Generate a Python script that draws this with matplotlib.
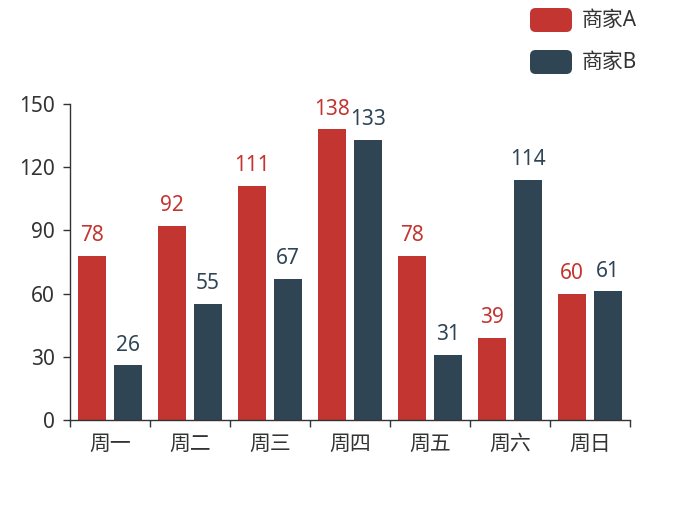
import numpy as np
import matplotlib
matplotlib.use("Agg")
import matplotlib.pyplot as plt
from matplotlib.patches import FancyBboxPatch

plt.rcParams['font.family'] = ['Noto Sans', 'Noto Sans CJK SC', 'DejaVu Sans']

days = ['周一', '周二', '周三', '周四', '周五', '周六', '周日']
series_names = ['商家A', '商家B']
sales_a = [78, 92, 111, 138, 78, 39, 60]
sales_b = [26, 55, 67, 133, 31, 114, 61]
colors = ['#c23531', '#2f4554']
y_ticks = [0, 30, 60, 90, 120, 150]

W, H = 700, 525
fig = plt.figure(figsize=(W / 100, H / 100), dpi=100)
ax = fig.add_axes([70 / W, 1 - 420 / H, 560 / W, 316 / H])

x = np.arange(len(days))
bw = 0.35
off = 0.225
for vals, dx, c in zip([sales_a, sales_b], [-off, off], colors):
    bars = ax.bar(x + dx, vals, width=bw, color=c)
    for b, v in zip(bars, vals):
        ax.annotate(str(v), (b.get_x() + b.get_width() / 2, v),
                    xytext=(0, 7), textcoords='offset points',
                    ha='center', va='bottom', color=c, fontsize=15)

ax.set_xlim(-0.5, len(days) - 0.5)
ax.set_ylim(0, 150)
ax.set_yticks(y_ticks)
ax.set_xticks(x)
ax.set_xticklabels(days)
ax.set_xticks(np.arange(len(days) + 1) - 0.5, minor=True)

for s in ['top', 'right']:
    ax.spines[s].set_visible(False)
for s in ['left', 'bottom']:
    ax.spines[s].set_color('#333333')
    ax.spines[s].set_linewidth(1)

ax.tick_params(axis='y', length=5, width=1, color='#333333', pad=6,
               labelsize=15, labelcolor='#333333')
ax.tick_params(axis='x', which='major', length=0, pad=10,
               labelsize=15, labelcolor='#333333')
ax.tick_params(axis='x', which='minor', length=5, width=1, color='#333333')

# 图例：右上角圆角色块
for i, (name, c) in enumerate(zip(series_names, colors)):
    y0 = 8 + i * 42
    box = FancyBboxPatch((530 / W, 1 - (y0 + 24) / H), 42 / W, 24 / H,
                         boxstyle='round,pad=0,rounding_size=0.008',
                         transform=fig.transFigure, facecolor=c,
                         edgecolor='none', mutation_aspect=W / H)
    fig.patches.append(box)
    fig.text(582 / W, 1 - (y0 + 12) / H, name, ha='left', va='center',
             fontsize=15, color='#333333')

fig.savefig('out.png', dpi=100)
